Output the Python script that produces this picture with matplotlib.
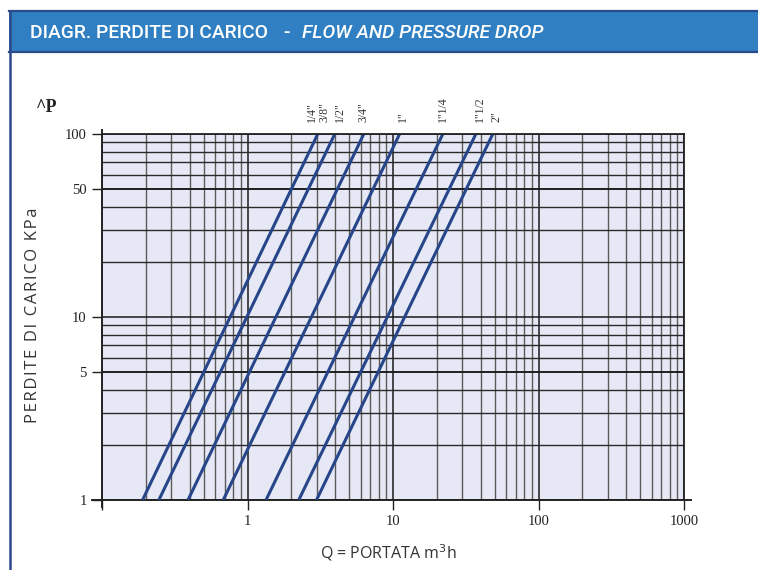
import matplotlib
matplotlib.use("Agg")
import matplotlib.pyplot as plt
import matplotlib.patches as patches
from matplotlib.lines import Line2D
from matplotlib.ticker import FixedLocator, NullFormatter, LogLocator

# pipe sizes (7 curves) : flow at dP = 1 kPa and at dP = 100 kPa
q_at_1 = [0.190, 0.246, 0.390, 0.681, 1.34, 2.25, 2.98]
q_at_100 = [3.04, 3.98, 6.30, 11.1, 22.0, 37.1, 48.5]
dp_ends = [1, 100]

# size labels printed above the chart
size_labels = ['1/4"', '3/8"', '1/2"', '3/4"', '1"', '1"1/4', '1"1/2', '2"']
size_label_q = [2.77, 3.40, 4.31, 6.30, 11.7, 22.0, 39.5, 51.6]

x_ticks = [0.1, 1, 10, 100, 1000]
x_ticklabels = ["", "1", "10", "100", "1000"]
y_ticks = [1, 5, 10, 50, 100]
y_ticklabels = ["1", "5", "10", "50", "100"]

BLUE_HEAD = "#2f7fc2"
BLUE_EDGE = "#2a4a8c"
LINE = "#27468a"
PLOT_BG = "#e7e8f5"

W, H = 758, 570
fig = plt.figure(figsize=(W / 100, H / 100), dpi=100, facecolor="white")

def fx(px):
    return px / W

def fy(py):
    return 1 - py / H

# header band and frame
fig.patches.append(patches.Rectangle((fx(9), fy(52)), 1, fy(11) - fy(52),
                                     transform=fig.transFigure, fc=BLUE_HEAD, ec="none"))
fig.add_artist(Line2D([fx(9), 1], [fy(11), fy(11)], color=BLUE_EDGE, lw=1.6))
fig.add_artist(Line2D([fx(9), 1], [fy(52), fy(52)], color=BLUE_EDGE, lw=1.6))
fig.add_artist(Line2D([fx(9.5), fx(9.5)], [0, fy(11)], color=BLUE_EDGE, lw=1.8))

# title: fit each piece to the width it has in the reference
renderer = fig.canvas.get_renderer()
title_font = "Roboto"
pieces = [("DIAGR. PERDITE DI CARICO", 30, 268, "normal"),
          ("-", 283, 290, "normal"),
          ("FLOW AND PRESSURE DROP", 302, 545, "italic")]
for txt, x0, x1, st in pieces:
    t = fig.text(fx(x0), fy(33), txt, color="white", fontsize=14, family=title_font,
                 style=st, va="center", ha="left", fontweight="medium")
    if len(txt) > 1:
        w = t.get_window_extent(renderer).width
        t.set_fontsize(14 * (x1 - x0) / w)

# plot area
ax = fig.add_axes([fx(102), fy(500), fx(684) - fx(102), fy(134) - fy(500)])
ax.set_facecolor(PLOT_BG)
ax.set_xscale("log")
ax.set_yscale("log")
ax.set_xlim(0.1, 1000)
ax.set_ylim(1, 100)

ax.xaxis.set_minor_locator(LogLocator(base=10, subs=range(2, 10)))
ax.yaxis.set_minor_locator(LogLocator(base=10, subs=range(2, 10)))
ax.xaxis.set_minor_formatter(NullFormatter())
ax.yaxis.set_minor_formatter(NullFormatter())
ax.grid(which="minor", axis="x", color="#5a5a5a", lw=1.0)
ax.grid(which="minor", axis="y", color="#2a2a2a", lw=1.0)
ax.grid(which="major", color="#1a1a1a", lw=1.1)
ax.tick_params(which="minor", length=0)

ax.xaxis.set_major_locator(FixedLocator(x_ticks))
ax.set_xticklabels(x_ticklabels)
ax.yaxis.set_major_locator(FixedLocator(y_ticks))
ax.set_yticklabels(y_ticklabels)
for y in [5, 50]:
    ax.axhline(y, color="#1a1a1a", lw=1.1)

serif = "Liberation Serif"
ax.tick_params(axis="x", which="major", direction="out", length=7, width=1.0,
               color="#222", labelsize=10.5, pad=4)
ax.tick_params(axis="y", which="major", direction="out", length=7, width=1.0,
               color="#222", labelsize=10.5, pad=4)
for lab in ax.get_xticklabels() + ax.get_yticklabels():
    lab.set_family(serif)
    lab.set_color("#222")

for s in ax.spines.values():
    s.set_color("#222")
    s.set_linewidth(1.3)
ax.spines["bottom"].set_visible(False)
ax.spines["left"].set_visible(False)
# extended axis lines
ax.add_line(Line2D([-0.017, 1.012], [0, 0], transform=ax.transAxes,
                   color="#222", lw=1.4, clip_on=False))
ax.add_line(Line2D([0, 0], [-0.02, 1.012], transform=ax.transAxes,
                   color="#222", lw=1.4, clip_on=False))

for q1, q100 in zip(q_at_1, q_at_100):
    ax.plot([q1, q100], dp_ends, color=LINE, lw=2.2, solid_capstyle="butt")

trans = ax.get_xaxis_transform()
for lab, q in zip(size_labels, size_label_q):
    ax.text(q, 1.032, lab, transform=trans, rotation=90, ha="center", va="bottom",
            family=serif, fontsize=8.5, color="#333")

fig.text(fx(36), fy(107), "^P", family=serif, fontweight="bold", fontsize=13,
         color="#222", va="center", ha="left")

ylab = "\u200a".join("PERDITE DI CARICO KPa")
fig.text(fx(33), fy(315), ylab,
         rotation=90, ha="center", va="center", fontsize=12, color="#333",
         family=["Open Sans", "DejaVu Sans"])
fig.text(fx(388), fy(553), "Q = PORTATA m$^3$h", ha="center", va="center",
         fontsize=11.5, color="#333", family="Open Sans")

fig.savefig("out.png", dpi=100, facecolor="white")
